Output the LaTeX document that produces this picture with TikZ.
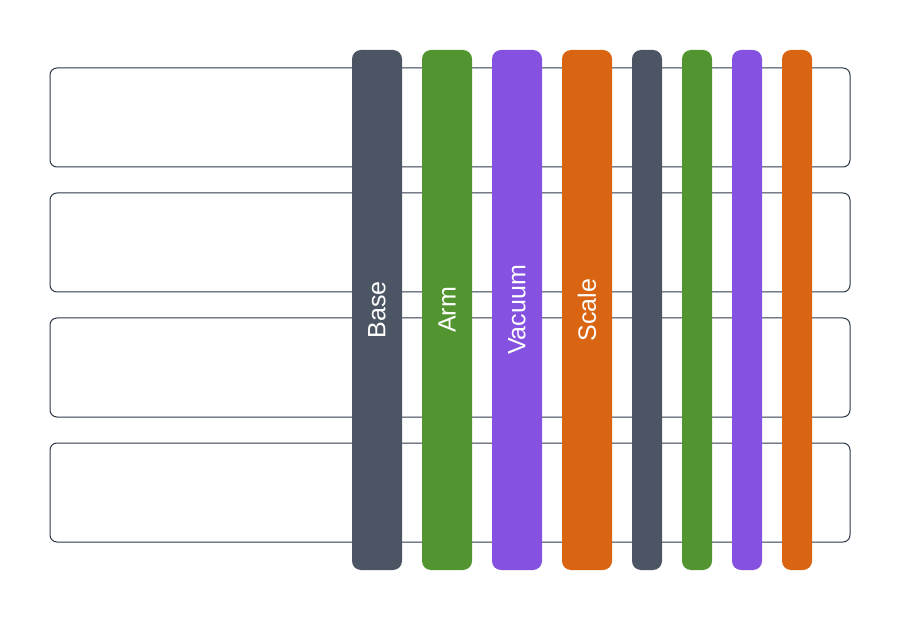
\documentclass[tikz,border=0pt]{standalone}
\usepackage{fontspec}
\setmainfont{Liberation Sans}
\tikzstyle{lane}=[draw=lanecol,line width=1pt,rounded corners=7pt,minimum width=800pt,minimum height=99pt,inner sep=0pt]
\tikzstyle{bar}=[rounded corners=9pt,minimum width=520pt,inner sep=0pt,rotate=90,text=white,font=\fontsize{25}{28}\selectfont]
\definecolor{lanecol}{HTML}{2D3748}
\definecolor{basecol}{HTML}{4B5563}
\definecolor{armcol}{HTML}{529530}
\definecolor{vaccol}{HTML}{8451E0}
\definecolor{scalecol}{HTML}{D96513}

\begin{document}
\begin{tikzpicture}[x=1pt, y=-1pt]
    \useasboundingbox (0,0) rectangle (900,620);
    % First the lanes
    \foreach \pos/\name in {{(450,117.5)/laneA}, {(450,242.5)/laneB}, {(450,367.5)/laneC}, {(450,492.5)/laneD}}
        \node[lane] (\name) at \pos {};
    % Then the wide bars with their labels
    \foreach \x/\name/\col/\label in {377/base/basecol/Base, 447/arm/armcol/Arm, 517/vacuum/vaccol/Vacuum, 587/scale/scalecol/Scale}
        \node[bar, fill=\col, minimum height=50pt] (\name) at (\x,310) {\label};
    % and the narrow ones
    \foreach \x/\name/\col in {647/baseB/basecol, 697/armB/armcol, 747/vacuumB/vaccol, 797/scaleB/scalecol}
        \node[bar, fill=\col, minimum height=30pt] (\name) at (\x,310) {};
\end{tikzpicture}
\end{document}
